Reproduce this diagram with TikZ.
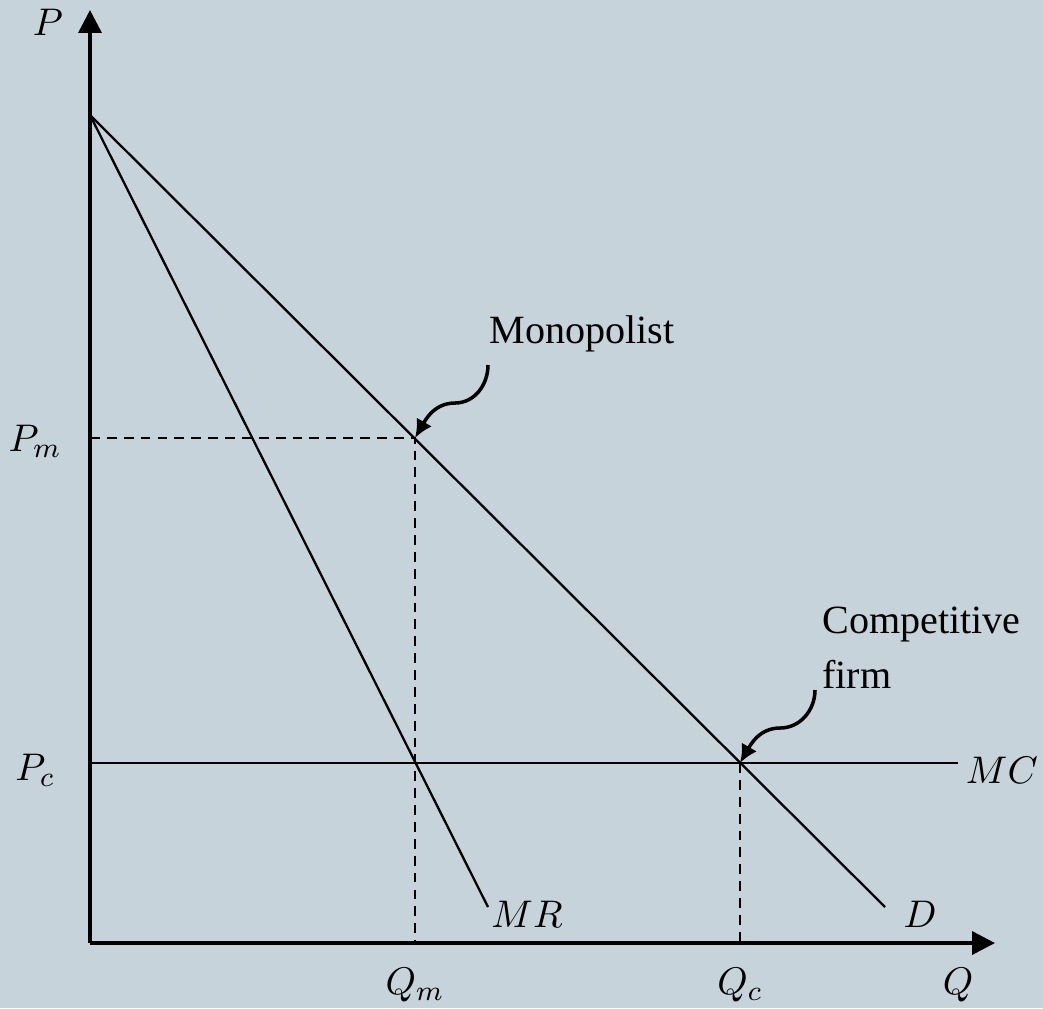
\documentclass[tikz,border=0pt]{standalone}
\usepackage{fontspec}
\setmainfont{Liberation Serif}
\usetikzlibrary{arrows.meta}
\definecolor{bgcol}{RGB}{199,211,218}

\begin{document}
\begin{tikzpicture}[x=0.01cm, y=-0.01cm, font=\fontsize{11.4}{15.6}\selectfont,
    axis/.style={line width=1pt, -{Triangle[length=6.5pt, width=6.5pt]}},
    curve/.style={line width=0.65pt},
    guide/.style={line width=0.65pt, dash pattern=on 2.8pt off 2pt},
    pointer/.style={line width=1pt, -{Latex[length=5.2pt, width=5pt]}}]
    \fill[bgcol] (0,0) rectangle (1043,1008);
    \useasboundingbox (0,0) rectangle (1043,1008);

    % points of the diagram
    \coordinate (o) at (90,943);
    \coordinate (ytop) at (90,10);
    \coordinate (xend) at (995,943);
    \coordinate (a) at (90,115);
    \coordinate (dend) at (885,907);
    \coordinate (mrend) at (488,907);
    \coordinate (mcstart) at (90,763);
    \coordinate (mcend) at (958,763);
    \coordinate (pm) at (90,438);
    \coordinate (em) at (415,438);
    \coordinate (ec) at (740,763);
    \coordinate (qm) at (415,943);
    \coordinate (qc) at (740,943);
    \coordinate (mstart) at (488,365);
    \coordinate (cstart) at (815,690);

    \draw[axis] (o) -- (ytop);
    \draw[axis] (o) -- (xend);

    \draw[curve] (a) -- (dend);
    \draw[curve] (a) -- (mrend);
    \draw[curve] (mcstart) -- (mcend);

    \draw[guide] (pm) -- (em) -- (qm);
    \draw[guide] (ec) -- (qc);

    \draw[pointer] (mstart) to[out=-90, in=0] (455,403) to[out=180, in=60] (em);
    \draw[pointer] (cstart) to[out=-90, in=0] (780,728) to[out=180, in=60] (ec);

    \node (lp) at (48,22) {$P$};
    \node (lpm) at (35,441) {$P_m$};
    \node (lpc) at (35,770) {$P_c$};
    \node[anchor=east, inner sep=1pt] (lmc) at (1042,770) {$MC$};
    \node (lmr) at (527,914) {$MR$};
    \node (ld) at (920,914) {$D$};
    \node (lqm) at (415,985) {$Q_m$};
    \node (lqc) at (740,985) {$Q_c$};
    \node (lq) at (958,985) {$Q$};

    \node (mono) at (582,334) {Monopolist};
    \node[anchor=west, align=left] (comp) at (810,648) {Competitive\\firm};
\end{tikzpicture}
\end{document}
